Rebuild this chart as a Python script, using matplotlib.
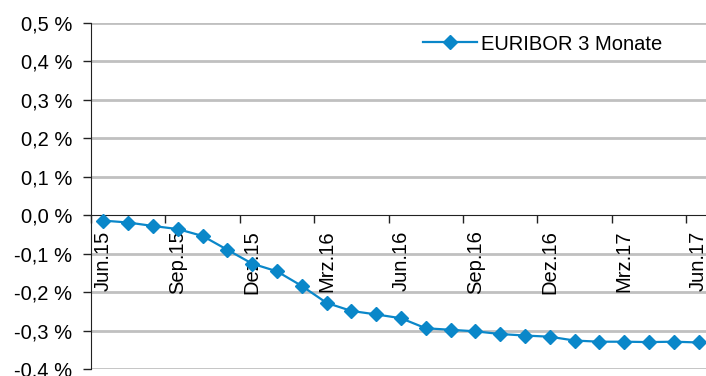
from matplotlib import pyplot as plt
import numpy as np

plt.rcParams['font.family'] = ['Liberation Sans', 'DejaVu Sans']
plt.rcParams['axes.unicode_minus'] = False

# monthly 3M EURIBOR, Jun 2015 .. Jun 2017 (in %)
months = ['Jun.15', 'Jul.15', 'Aug.15', 'Sep.15', 'Okt.15', 'Nov.15',
          'Dez.15', 'Jan.16', 'Feb.16', 'Mrz.16', 'Apr.16', 'Mai.16',
          'Jun.16', 'Jul.16', 'Aug.16', 'Sep.16', 'Okt.16', 'Nov.16',
          'Dez.16', 'Jan.17', 'Feb.17', 'Mrz.17', 'Apr.17', 'Mai.17',
          'Jun.17']
euribor_3m = [-0.014, -0.019, -0.028, -0.036, -0.054, -0.090,
              -0.126, -0.146, -0.184, -0.228, -0.249, -0.258,
              -0.268, -0.294, -0.298, -0.302, -0.309, -0.313,
              -0.316, -0.326, -0.329, -0.329, -0.330, -0.329,
              -0.331]
yticks = [-0.4, -0.3, -0.2, -0.1, 0.0, 0.1, 0.2, 0.3, 0.4, 0.5]

blue = '#0a87c9'
grid = '#c0c0c0'
fs = 14.5

fig = plt.figure(figsize=(7.06, 3.76), dpi=100)
ax = fig.add_axes([91 / 706, 7 / 376, 620 / 706, 346 / 376])

x = np.arange(len(months))
ax.set_xlim(-0.5, len(months) - 0.5)
ax.set_ylim(yticks[0], yticks[-1])

for v in yticks:
    if v != 0:
        ax.axhline(v, color=grid, lw=2, zorder=1)

ax.plot(x, euribor_3m, color=blue, lw=1.6, marker='D', ms=6.8,
        mec=blue, mfc=blue, label='EURIBOR 3 Monate', zorder=4, clip_on=False)

for s in ['top', 'right']:
    ax.spines[s].set_visible(False)
ax.spines['bottom'].set_position(('data', 0))
ax.spines['bottom'].set_color('#222222')
ax.spines['left'].set_color('#222222')
ax.spines['bottom'].set_zorder(3)

ax.set_yticks(yticks)
ax.set_yticklabels([('%.1f %%' % v).replace('.', ',') for v in yticks],
                   fontsize=fs)
ax.tick_params(axis='y', length=6, width=1, color='#222222', pad=7.5)

# tick marks between categories, labels on every third month
ax.set_xticks(np.arange(-0.5, len(months), 3))
ax.set_xticklabels([])
ax.tick_params(axis='x', which='major', length=6, width=1, color='#222222')
ax.set_xticks(x[::3], minor=True)
ax.set_xticklabels(months[::3], minor=True, rotation=90, fontsize=fs,
                   va='top', ha='center')
ax.tick_params(axis='x', which='minor', length=0, pad=11)

ax.legend(loc='center left', bbox_to_anchor=(423 / 706, 1 - 44 / 376),
          bbox_transform=fig.transFigure, frameon=False, fontsize=fs,
          handlelength=2.7, handletextpad=0.2, borderpad=0, borderaxespad=0)

fig.savefig('out.png', dpi=100)
